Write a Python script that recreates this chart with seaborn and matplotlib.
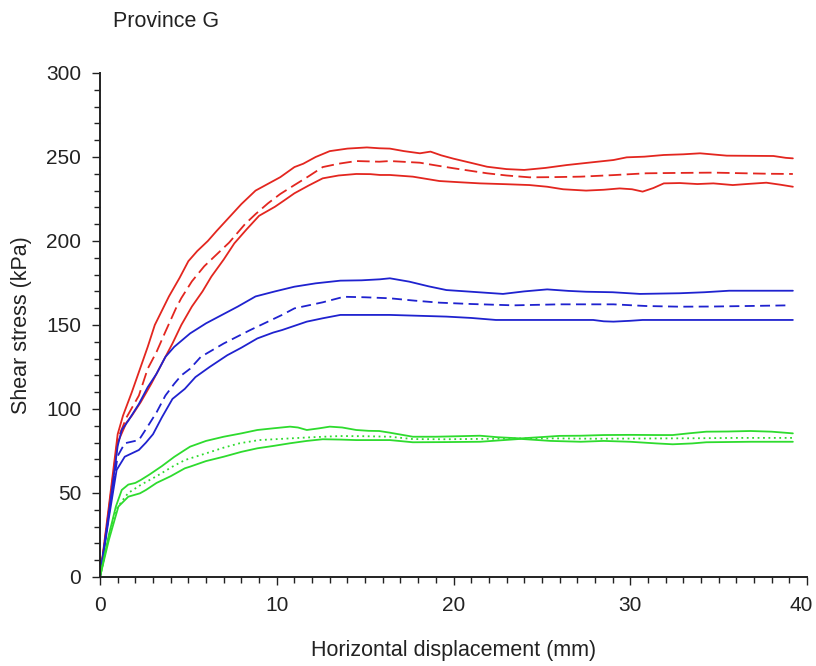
import matplotlib
matplotlib.use("Agg")
import matplotlib.pyplot as plt
from matplotlib.ticker import MultipleLocator
from matplotlib.transforms import ScaledTranslation
import seaborn as sns

# Displacement (mm) / shear stress (kPa) traces
red_upper_x = [0, 0.5, 1.0, 1.3, 1.8, 2.2, 2.7, 3.1, 3.9, 4.5, 5.0, 5.5, 6.1, 6.6, 7.3, 8.0, 8.8, 9.5,
               10.2, 11.0, 11.5, 12.2, 13.0, 14.0, 15.1, 15.8, 16.4, 17.2, 18.1, 18.7, 19.3, 20.0, 21.0,
               21.9, 23.0, 24.0, 25.2, 26.4, 27.8, 29.05, 29.8, 30.8, 31.9, 33.0, 33.95, 34.7, 35.46,
               36.8, 38.1, 38.8, 39.2]
red_upper_y = [0, 42, 85, 96, 110, 122, 137, 150, 167, 178, 188, 194, 200, 206, 214, 222, 230, 234,
               238, 244, 246, 250, 253.5, 255, 255.7, 255.2, 255, 253.5, 252.2, 253.2, 251, 249, 246.5,
               244.2, 242.8, 242.3, 243.5, 245.2, 246.8, 248.2, 249.8, 250.2, 251.2, 251.6, 252.2, 251.5,
               250.8, 250.7, 250.6, 249.5, 249.2]

red_mean_x = [0, 0.5, 1.0, 1.5, 2.2, 2.7, 3.2, 3.7, 4.3, 4.6, 5.2, 5.9, 6.6, 7.3, 8.2, 8.8, 9.5, 10.2,
              11.0, 11.8, 12.6, 13.5, 14.5, 15.8, 16.4, 18.1, 19.0, 20.0, 21.9, 23.0, 24.3, 25.5, 27.2,
              29.0, 30.9, 32.5, 34.7, 36.5, 38.0, 39.2]
red_mean_y = [0, 40, 82, 95, 108, 124, 134, 146, 160, 166, 176, 185, 192, 199, 210, 216, 222.4, 228,
              233.3, 238.5, 244, 246, 247.6, 247.2, 247.6, 246.6, 245, 243.3, 240.3, 239, 237.9, 238,
              238.3, 239.2, 240.3, 240.5, 240.7, 240.3, 240, 239.9]

red_lower_x = [0, 0.5, 1.0, 1.5, 1.8, 2.3, 2.9, 3.5, 4.1, 4.6, 5.2, 5.8, 6.3, 7.0, 7.6, 8.3, 9.0, 9.5,
               9.9, 10.4, 11.0, 11.8, 12.6, 13.5, 14.5, 15.3, 15.84, 16.4, 17.7, 19.2, 20.3, 21.5, 23.0,
               24.3, 25.3, 26.2, 27.5, 28.5, 29.4, 30.1, 30.7, 31.3, 31.9, 32.8, 33.8, 34.7, 35.8, 36.7,
               37.7, 38.5, 39.2]
red_lower_y = [0, 38, 80, 92, 96, 104, 115, 127, 139, 150, 161, 170, 178.8, 189, 198.6, 207, 215, 218,
               220.4, 224, 228.4, 233, 237.3, 239, 239.9, 239.8, 239.3, 239.3, 238.3, 235.7, 235, 234.3,
               233.8, 233.3, 232.3, 230.8, 230, 230.5, 231.3, 230.8, 229.4, 231.5, 234.3, 234.5, 233.9,
               234.3, 233.3, 234, 234.7, 233.5, 232.3]

blue_upper_x = [0, 0.5, 1.0, 1.23, 1.6, 2.2, 2.7, 3.2, 3.7, 4.2, 5.1, 6.0, 6.9, 7.8, 8.8, 9.9, 11.0,
                12.2, 13.6, 14.8, 15.84, 16.4, 17.5, 18.6, 19.6, 21.0, 22.8, 24.0, 25.3, 26.5, 27.5,
                29.0, 30.55, 32.8, 34.2, 35.6, 37.5, 39.2]
blue_upper_y = [0, 38, 78, 87.5, 93, 103, 113, 121, 131, 137, 145, 151, 156, 161, 167, 170, 172.8,
                174.8, 176.4, 176.6, 177.2, 177.8, 175.8, 173, 170.8, 169.8, 168.5, 170, 171.2, 170.3,
                169.8, 169.5, 168.5, 168.9, 169.5, 170.4, 170.4, 170.4]

blue_mean_x = [0, 0.5, 1.0, 1.4, 2.2, 2.6, 3.2, 3.7, 4.2, 4.6, 5.1, 5.7, 7.0, 8.5, 10.3, 11.0, 12.6,
               13.8, 15.0, 16.4, 17.8, 19.2, 21.0, 23.4, 26.0, 29.05, 30.9, 32.8, 34.7, 36.6, 39.0]
blue_mean_y = [0, 37, 72, 79.6, 81.5, 88, 98, 108, 115, 120, 124, 131, 139, 147, 156, 159.9, 163.5,
               166.8, 166.5, 165.9, 164.5, 163.3, 162.5, 161.7, 162.3, 162.3, 161.3, 160.9, 161, 161.3,
               161.7]

blue_lower_x = [0, 0.5, 0.94, 1.4, 2.2, 2.6, 3.0, 3.5, 4.1, 4.8, 5.4, 6.2, 7.2, 8.0, 8.9, 9.8, 10.3,
                11.0, 11.7, 12.6, 13.6, 15.8, 16.4, 19.6, 21.0, 22.4, 27.9, 28.5, 29.05, 30.0, 30.7, 39.2]
blue_lower_y = [0, 35, 63.7, 71.6, 75.6, 80, 85, 95, 106, 112, 119, 125, 132, 136.5, 142, 145.5, 147,
                149.5, 152, 154, 156, 156, 156, 155, 154.2, 153, 153, 152.2, 152, 152.5, 153, 153]

green_upper_x = [0, 0.5, 0.9, 1.23, 1.6, 2.0, 2.3, 2.8, 3.5, 4.2, 4.8, 5.1, 6.0, 7.0, 8.0, 8.9, 9.8,
                 10.75, 11.2, 11.7, 12.4, 13.0, 13.7, 14.5, 15.2, 15.8, 16.4, 17.7, 19.0, 20.3, 21.5,
                 22.5, 23.8, 25.0, 26.0, 27.2, 28.5, 30.0, 31.5, 32.4, 33.3, 34.3, 35.5, 36.8, 38.0, 39.2]
green_upper_y = [0, 25, 42, 51.8, 55, 56, 57.7, 61, 66, 71.5, 75.6, 77.6, 81, 83.5, 85.5, 87.5, 88.5,
                 89.5, 89, 87.5, 88.5, 89.5, 89, 87.5, 87, 86.9, 85.9, 83.5, 83.5, 83.8, 84.1, 83.2,
                 82.5, 83.3, 84, 84.1, 84.5, 84.6, 84.5, 84.5, 85.5, 86.5, 86.6, 86.9, 86.5, 85.5]

green_mean_x = [0, 0.5, 0.9, 1.3, 1.6, 2.3, 3.2, 4.1, 4.8, 6.0, 7.0, 7.9, 9.0, 10.75, 12.0, 13.6, 15.0,
                16.4, 17.7, 19.5, 21.5, 23.8, 26.0, 28.0, 30.0, 32.0, 34.0, 36.0, 38.0, 39.2]
green_mean_y = [0, 24, 40, 46, 50, 54.8, 60, 65.7, 69.6, 73.6, 77, 79.6, 81.5, 82.5, 83.2, 83.9, 83.8,
                83.5, 82.1, 82, 82.2, 82.5, 82.5, 82.3, 82.4, 82.5, 82.6, 82.8, 82.8, 82.8]

green_lower_x = [0, 0.5, 1.04, 1.6, 2.26, 2.6, 3.2, 4.0, 4.8, 5.1, 6.0, 7.0, 8.0, 8.9, 9.8, 10.75, 11.7,
                 12.6, 13.6, 14.5, 15.8, 16.4, 17.7, 19.5, 21.5, 23.8, 25.5, 27.2, 28.5, 30.0, 31.5,
                 32.4, 33.5, 34.3, 36.8, 38.0, 39.2]
green_lower_y = [0, 22, 41.9, 47.8, 49.8, 51.8, 56, 60, 64.7, 65.7, 69, 71.6, 74.5, 76.6, 78, 79.6, 81,
                 82, 81.8, 81.5, 81.5, 81.5, 80.2, 80.3, 80.5, 82.2, 81, 80.5, 81, 80.5, 79.5, 79,
                 79.5, 80.2, 80.5, 80.5, 80.5]

x_ticks = [0, 10, 20, 30, 40]
y_ticks = [0, 50, 100, 150, 200, 250, 300]

RED, BLUE, GREEN = "#e3261f", "#1f22cf", "#2edb2e"

sns.set_style("ticks")
plt.rcParams["font.family"] = ["Liberation Sans", "DejaVu Sans"]

fig = plt.figure(figsize=(8.16, 6.66), dpi=100)
ax = fig.add_axes([100 / 816, 89 / 666, 707 / 816, 504 / 666])

lw = 1.3
traces = [
    (red_upper_x, red_upper_y, RED, "-"),
    (red_mean_x, red_mean_y, RED, (0, (7, 3))),
    (red_lower_x, red_lower_y, RED, "-"),
    (blue_upper_x, blue_upper_y, BLUE, "-"),
    (blue_mean_x, blue_mean_y, BLUE, (0, (5.5, 3))),
    (blue_lower_x, blue_lower_y, BLUE, "-"),
    (green_upper_x, green_upper_y, GREEN, "-"),
    (green_mean_x, green_mean_y, GREEN, (0, (1, 2))),
    (green_lower_x, green_lower_y, GREEN, "-"),
]
for xs, ys, col, ls in traces:
    sns.lineplot(x=xs, y=ys, ax=ax, color=col, linewidth=lw, linestyle=ls,
                 sort=False, estimator=None)

ax.set_xlim(0, 40)
ax.set_ylim(0, 300)
ax.set_xticks(x_ticks)
ax.set_yticks(y_ticks)
ax.xaxis.set_minor_locator(MultipleLocator(1))
ax.yaxis.set_minor_locator(MultipleLocator(10))

sns.despine(ax=ax)
for side in ("left", "bottom"):
    ax.spines[side].set_linewidth(1.4)
    ax.spines[side].set_color("#222222")

ax.tick_params(which="major", length=5.5, width=1.0, color="#222222",
               labelsize=15, labelcolor="#222222", pad=8)
ax.tick_params(which="minor", length=4, width=1.0, color="#222222")

ax.set_xlabel("Horizontal displacement (mm)", fontsize=15.5, color="#222222", labelpad=18)
ax.set_ylabel("Shear stress (kPa)", fontsize=15.5, color="#222222", labelpad=10)

# nudge the right-most x tick label so it stays inside the canvas
for lbl in ax.get_xticklabels():
    if lbl.get_text() == "40":
        lbl.set_transform(lbl.get_transform() + ScaledTranslation(-0.06, 0, fig.dpi_scale_trans))

fig.text(113 / 816, 1 - 27 / 666, "Province G", fontsize=15.5, color="#222222",
         ha="left", va="baseline")

fig.savefig("out.png", dpi=100)
